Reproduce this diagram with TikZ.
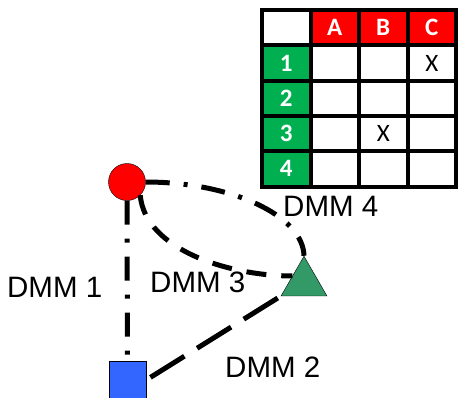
\documentclass[tikz,border=0pt]{standalone}
\usepackage{fontspec}
\setmainfont{Liberation Sans}
\newfontfamily\cellfont{Carlito}
\usetikzlibrary{shapes.geometric}

\definecolor{hotred}{RGB}{255,0,0}
\definecolor{rowgreen}{RGB}{0,176,80}
\definecolor{trigreen}{RGB}{51,153,102}
\definecolor{boxblue}{RGB}{51,102,255}

\tikzset{
    gridline/.style={line width=4pt},
    link/.style={line width=5pt},
    dashdot/.style={link, dash pattern=on 24pt off 14pt on 4pt off 14pt},
    longdash/.style={link, dash pattern=on 40pt off 15pt},
    shortdash/.style={link, dash pattern=on 20pt off 15pt},
    lbl/.style={anchor=base west, inner sep=0pt, font=\fontsize{29.5}{34}\selectfont},
    headcell/.style={text=white, font=\cellfont\bfseries\fontsize{25}{29}\selectfont},
    crosscell/.style={font=\cellfont\fontsize{25}{29}\selectfont}
}

\begin{document}
\begin{tikzpicture}[x=1pt, y=-1pt]
        \useasboundingbox (0,0) rectangle (458,397);

        % table
        \fill[hotred] (310.5,10) rectangle (456,45.3);
        \fill[rowgreen] (262,45.3) rectangle (310.5,186.5);
        \draw[gridline] (262,10) -- (456,10) (262,45.3) -- (456,45.3)
              (262,80.6) -- (456,80.6) (262,115.9) -- (456,115.9)
              (262,151.2) -- (456,151.2) (262,186.5) -- (456,186.5)
              (262,8) -- (262,188.5) (310.5,8) -- (310.5,188.5)
              (359,8) -- (359,188.5) (407.5,8) -- (407.5,188.5)
              (456,8) -- (456,188.5);

        \node[headcell] (A) at (334.75,27.65) {A};
        \node[headcell] (B) at (383.25,27.65) {B};
        \node[headcell] (C) at (431.75,27.65) {C};
        \node[headcell] (r1) at (286.25,63) {1};
        \node[headcell] (r2) at (286.25,98.25) {2};
        \node[headcell] (r3) at (286.25,133.55) {3};
        \node[headcell] (r4) at (286.25,168.85) {4};
        \node[crosscell] (x1C) at (431.75,63) {X};
        \node[crosscell] (x3B) at (383.25,133.55) {X};

        % shapes
        \node[circle, draw, fill=hotred, inner sep=0pt, minimum size=37pt] (circ) at (127,182) {};
        \node[regular polygon, regular polygon sides=3, draw, fill=trigreen, inner sep=0pt,
              minimum size=53pt] (tri) at (304,282.7) {};
        \node[rectangle, draw, fill=boxblue, inner sep=0pt, minimum size=37pt] (sq) at (127.5,380) {};

        % links
        \draw[dashdot] (circ.south) -- (sq.north);
        \draw[longdash, shorten <=5pt] (sq.east) -- (tri.corner 2);
        \draw[shortdash] (circ.-45) .. controls (145,250) and (230,276) .. (tri.side 1);
        \draw[dashdot] (circ.east) .. controls (230,182) and (303,215) .. (tri.corner 1);

        \node[lbl] (l1) at (7,297) {DMM 1};
        \node[lbl] (l2) at (225,377) {DMM 2};
        \node[lbl] (l3) at (150,292) {DMM 3};
        \node[lbl] (l4) at (283,216) {DMM 4};
\end{tikzpicture}
\end{document}
